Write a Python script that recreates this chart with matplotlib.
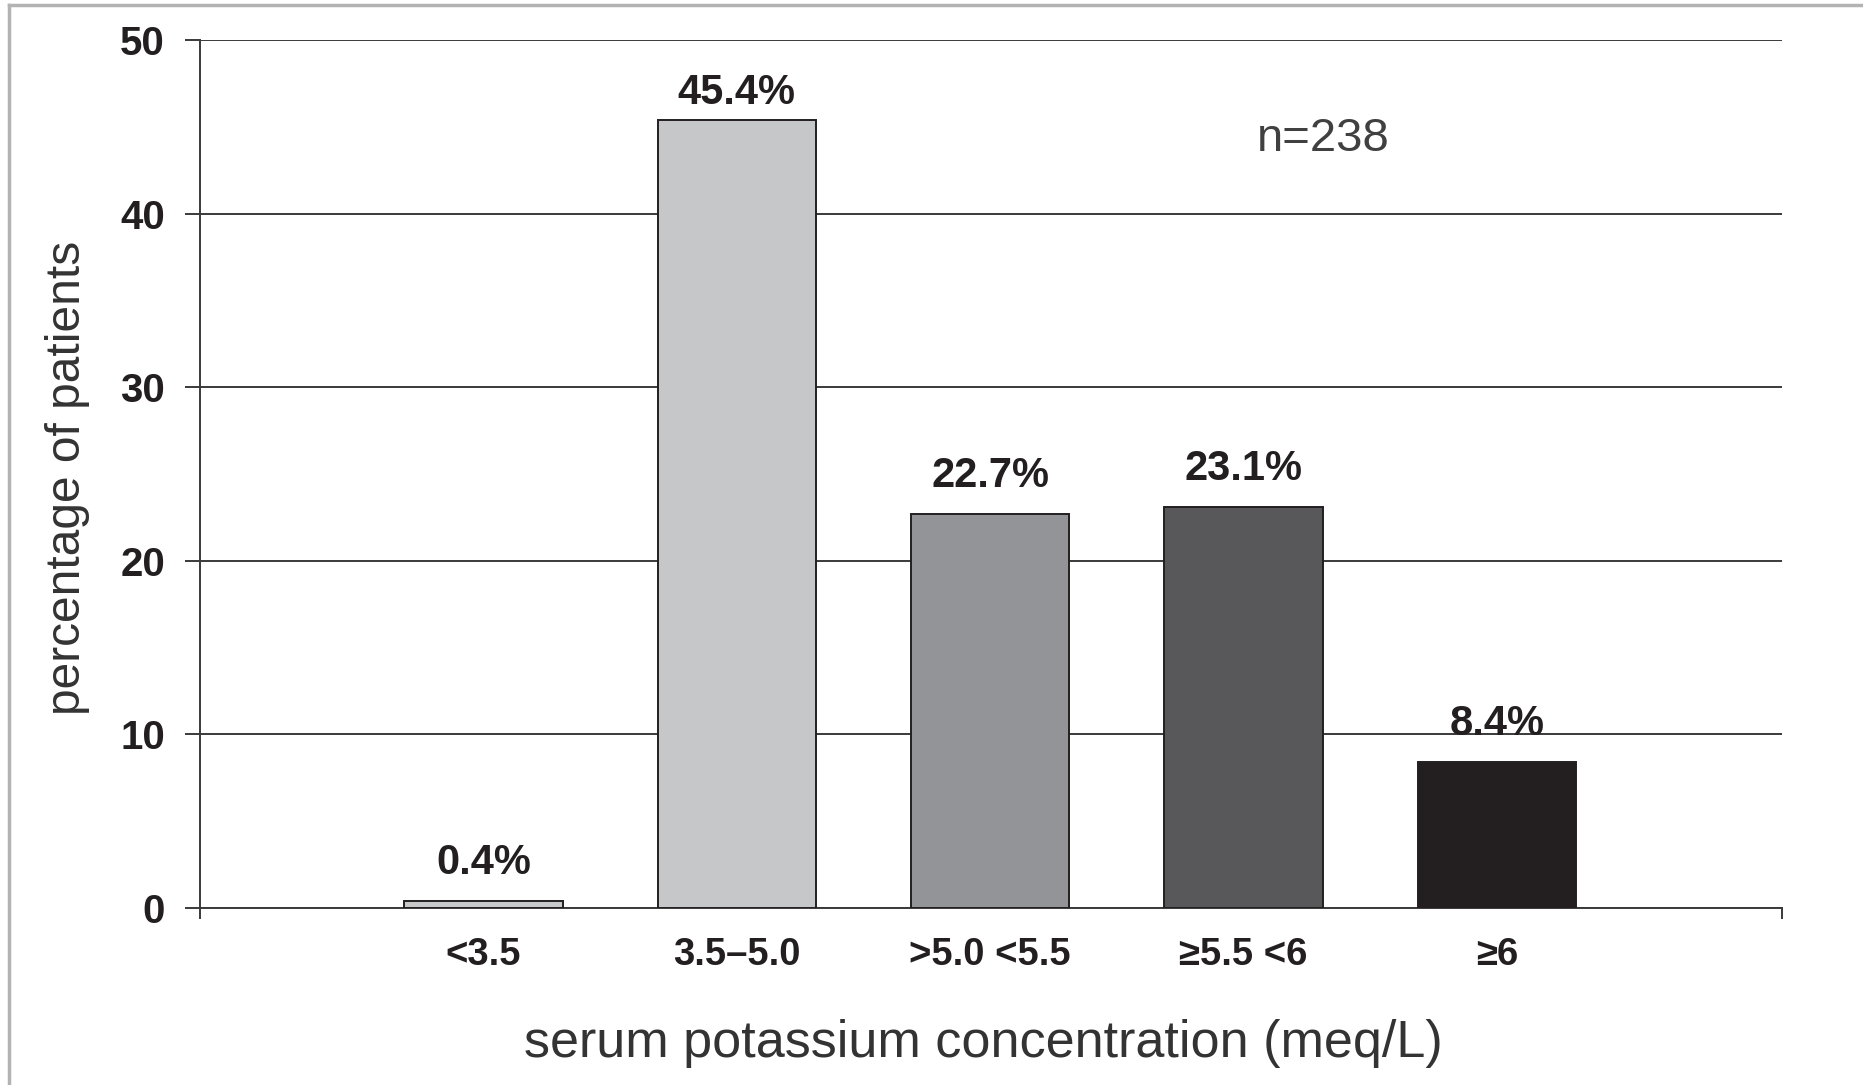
import matplotlib
matplotlib.use("Agg")
import matplotlib.pyplot as plt
from matplotlib.lines import Line2D

categories = ["<3.5", "3.5–5.0", ">5.0 <5.5", "≥5.5 <6", "≥6"]
percentages = [0.4, 45.4, 22.7, 23.1, 8.4]
value_labels = ["0.4%", "45.4%", "22.7%", "23.1%", "8.4%"]
bar_colors = ["#c8c9cb", "#c6c7c9", "#939497", "#58585a", "#231f20"]
y_ticks = [0, 10, 20, 30, 40, 50]
n_text = "n=238"

plt.rcParams['font.family'] = ['Liberation Sans', 'DejaVu Sans']

W, H = 1863, 1085
fig = plt.figure(figsize=(W / 100, H / 100), dpi=100)
ax = fig.add_axes([199.6 / W, 177.4 / H, (1782 - 199.6) / W, (907.6 - 40.4) / H])

dark = "#333333"
x = list(range(len(categories)))
ax.bar(x, percentages, width=0.625, color=bar_colors, edgecolor="#231f20",
       linewidth=1.4, zorder=3)

for xi, v, lab in zip(x, percentages, value_labels):
    off = 5 if v > 40 else 13
    ax.annotate(lab, (xi, v), xytext=(0, off), textcoords="offset points",
                ha="center", va="bottom", fontsize=30, fontweight="bold",
                color="#231f20", zorder=4)

ax.set_xlim(-1.12, 5.125)
ax.set_ylim(0, 50)
ax.set_yticks(y_ticks)
ax.set_yticklabels([str(t) for t in y_ticks], fontsize=29, fontweight="bold", color="#231f20")
ax.yaxis.grid(True, color="#3a3a3a", linewidth=1.4, zorder=0)
ax.set_axisbelow(True)
ax.tick_params(axis="y", length=11, width=1.4, color="#3a3a3a", pad=14, direction="out")

ax.set_xticks(x)
ax.set_xticklabels(categories, fontsize=27.5, fontweight="bold", color="#231f20")
ax.tick_params(axis="x", which="major", length=0, pad=21)
ax.set_xticks([-1.12, 5.125], minor=True)
ax.tick_params(axis="x", which="minor", length=8, width=1.4, color="#3a3a3a", direction="out")

for s in ["top", "right"]:
    ax.spines[s].set_visible(False)
for s in ["left", "bottom"]:
    ax.spines[s].set_color("#3a3a3a")
    ax.spines[s].set_linewidth(1.4)

ax.text(0.71, 0.886, n_text, transform=ax.transAxes, ha="center", va="center",
        fontsize=34, color="#404040")

fig.text(68 / W, 1 - 478 / H, "percentage of patients", rotation=90,
         ha="center", va="center", fontsize=34.5, color=dark)
fig.text(983 / W, 1 - 1043 / H, "serum potassium concentration (meq/L)",
         ha="center", va="center", fontsize=37.5, color=dark)

# figure frame (top and left edges visible)
fig.add_artist(Line2D([9 / W, 9 / W], [0, 1 - 5 / H], transform=fig.transFigure,
                      color="#b3b3b3", linewidth=2.5))
fig.add_artist(Line2D([9 / W, 1], [1 - 5 / H, 1 - 5 / H], transform=fig.transFigure,
                      color="#b3b3b3", linewidth=2.5))

fig.savefig("out.png", dpi=100, facecolor="white")
